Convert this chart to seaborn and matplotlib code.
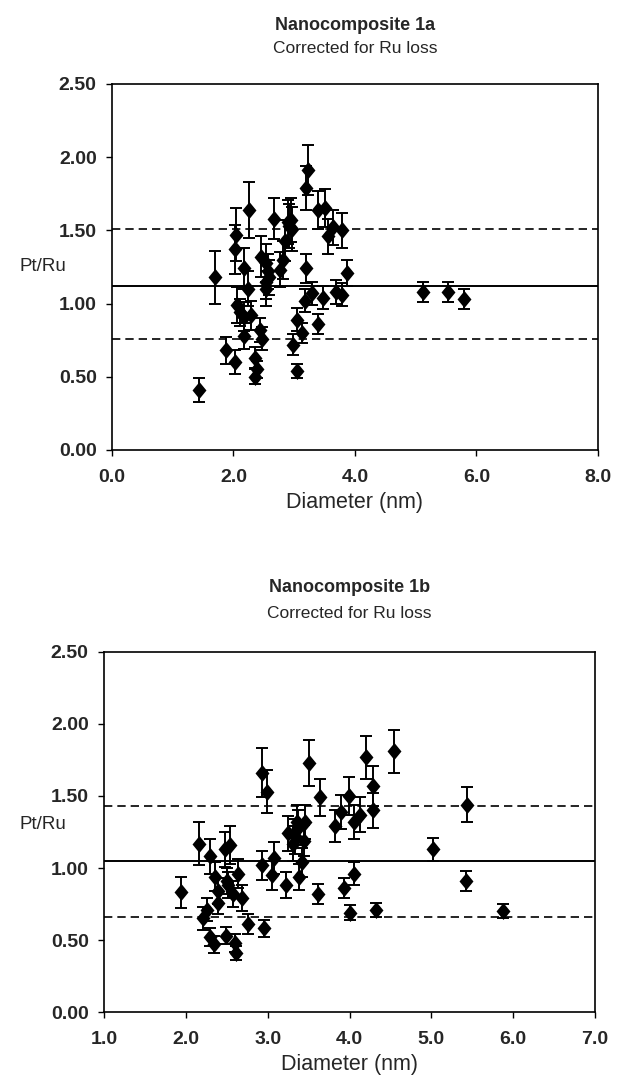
import seaborn as sns
import matplotlib.pyplot as plt
import pandas as pd

# Nanocomposite 1a
diam_a = [1.44, 1.69, 1.88, 2.02, 2.02, 2.04, 2.05, 2.11, 2.17, 2.17, 2.17, 2.24, 2.26, 2.29,
          2.36, 2.38, 2.36, 2.43, 2.47, 2.46, 2.53, 2.56, 2.58, 2.54, 2.53, 2.66, 2.76, 2.82,
          2.84, 2.89, 2.92, 2.95, 2.97, 3.04, 2.98, 3.04, 3.23, 3.20, 3.20, 3.39, 3.50, 3.55,
          3.64, 3.79, 3.87, 3.30, 3.17, 3.47, 3.69, 3.79, 3.12, 3.39, 5.12, 5.53, 5.79]
ptru_a = [0.41, 1.18, 0.68, 0.60, 1.37, 1.47, 0.99, 0.94, 1.24, 0.91, 0.78, 1.10, 1.64, 0.92,
          0.63, 0.55, 0.50, 0.82, 0.76, 1.32, 1.28, 1.22, 1.18, 1.15, 1.10, 1.58, 1.23, 1.30,
          1.43, 1.56, 1.53, 1.57, 1.51, 0.89, 0.72, 0.54, 1.91, 1.79, 1.24, 1.64, 1.65, 1.46,
          1.52, 1.50, 1.21, 1.07, 1.02, 1.04, 1.08, 1.06, 0.80, 0.86, 1.08, 1.08, 1.03]
err_a = [0.08, 0.18, 0.09, 0.08, 0.17, 0.18, 0.12, 0.09, 0.14, 0.10, 0.09, 0.12, 0.19, 0.10,
         0.07, 0.06, 0.05, 0.08, 0.08, 0.14, 0.13, 0.12, 0.12, 0.12, 0.12, 0.14, 0.12, 0.13,
         0.14, 0.15, 0.15, 0.15, 0.15, 0.08, 0.07, 0.05, 0.17, 0.15, 0.10, 0.13, 0.13, 0.12,
         0.12, 0.12, 0.09, 0.08, 0.08, 0.08, 0.08, 0.08, 0.07, 0.07, 0.07, 0.07, 0.07]
lines_a = [1.12, 1.51, 0.76]  # mean, upper, lower

# Nanocomposite 1b
diam_b = [1.94, 2.16, 2.21, 2.26, 2.30, 2.29, 2.34, 2.36, 2.39, 2.39, 2.48, 2.54, 2.49, 2.50,
          2.52, 2.60, 2.61, 2.58, 2.64, 2.69, 2.76, 2.95, 2.93, 2.99, 2.93, 3.08, 3.05, 3.22,
          3.25, 3.33, 3.31, 3.37, 3.38, 3.36, 3.45, 3.44, 3.42, 3.50, 3.64, 3.82, 3.90, 3.99,
          4.05, 4.13, 4.20, 4.29, 4.29, 4.54, 5.02, 3.62, 3.93, 4.05, 4.01, 4.32, 5.43, 5.42, 5.88]
ptru_b = [0.83, 1.17, 0.65, 0.71, 1.08, 0.52, 0.47, 0.94, 0.84, 0.76, 1.13, 1.16, 0.53, 0.91,
          0.88, 0.48, 0.41, 0.82, 0.96, 0.79, 0.61, 0.58, 1.66, 1.53, 1.02, 1.07, 0.95, 0.88,
          1.24, 1.22, 1.17, 1.28, 0.94, 1.32, 1.32, 1.19, 1.04, 1.73, 1.49, 1.29, 1.39, 1.50,
          1.32, 1.37, 1.77, 1.57, 1.40, 1.81, 1.13, 0.82, 0.86, 0.96, 0.69, 0.71, 1.44, 0.91, 0.70]
err_b = [0.11, 0.15, 0.08, 0.08, 0.12, 0.06, 0.06, 0.10, 0.09, 0.08, 0.12, 0.13, 0.06, 0.09,
         0.09, 0.06, 0.05, 0.09, 0.10, 0.09, 0.07, 0.06, 0.17, 0.15, 0.10, 0.11, 0.10, 0.09,
         0.12, 0.12, 0.12, 0.12, 0.09, 0.12, 0.12, 0.11, 0.10, 0.16, 0.13, 0.11, 0.12, 0.13,
         0.12, 0.12, 0.15, 0.14, 0.12, 0.15, 0.08, 0.07, 0.07, 0.08, 0.05, 0.05, 0.12, 0.07, 0.05]
lines_b = [1.05, 1.43, 0.66]

sns.set_style("ticks")
plt.rcParams['font.family'] = ['Liberation Sans', 'DejaVu Sans']

fig = plt.figure(figsize=(6.17, 10.78), dpi=100)
ax1 = fig.add_axes([0.1815, 0.5826, 0.7877, 0.3395])
ax2 = fig.add_axes([0.1686, 0.0612, 0.7958, 0.3340])

# slightly tall diamond like the original marker
diamond = [(0, 1), (0.82, 0), (0, -1), (-0.82, 0), (0, 1)]


def panel(ax, d, v, e, hl, xlim, xticks, name, title_y, sub_y, ylab_pos):
    df = pd.DataFrame({"Diameter": d, "PtRu": v, "err": e})
    ax.errorbar(df["Diameter"], df["PtRu"], yerr=df["err"], fmt="none",
                ecolor="black", elinewidth=1.4, capsize=4, capthick=1.4, zorder=2)
    sns.scatterplot(data=df, x="Diameter", y="PtRu", ax=ax, marker=diamond, s=150,
                    color="black", edgecolor="black", linewidth=0, zorder=3)
    ax.axhline(hl[0], color="black", lw=1.4, zorder=1)
    ax.axhline(hl[1], color="black", lw=1.2, ls=(0, (5, 3)), zorder=1)
    ax.axhline(hl[2], color="black", lw=1.2, ls=(0, (5, 3)), zorder=1)
    ax.set_xlim(*xlim)
    ax.set_ylim(0, 2.5)
    ax.set_xticks(xticks)
    ax.set_xticklabels([f"{t:.1f}" for t in xticks], fontweight="bold", fontsize=14)
    yt = [0, 0.5, 1.0, 1.5, 2.0, 2.5]
    ax.set_yticks(yt)
    ax.set_yticklabels([f"{t:.2f}" for t in yt], fontweight="bold", fontsize=14)
    ax.tick_params(direction="out", length=4, width=1, color="black")
    ax.tick_params(axis="x", pad=10)
    ax.tick_params(axis="y", pad=7)
    for sp in ax.spines.values():
        sp.set_visible(True)
        sp.set_color("black")
        sp.set_linewidth(1.2)
    ax.set_xlabel("Diameter (nm)", fontsize=15.5, labelpad=4)
    ax.set_ylabel("Pt/Ru", fontsize=13.5, rotation=0, ha="center", va="center")
    ax.yaxis.set_label_coords(*ylab_pos)
    ax.text(0.5, title_y, name, transform=ax.transAxes, ha="center", va="center",
            fontweight="bold", fontsize=13)
    ax.text(0.5, sub_y, "Corrected for Ru loss", transform=ax.transAxes,
            ha="center", va="center", fontsize=12.5)


panel(ax1, diam_a, ptru_a, err_a, lines_a, (0, 8), [0, 2, 4, 6, 8],
      "Nanocomposite 1a", 1.161, 1.098, (-0.142, 0.50))
panel(ax2, diam_b, ptru_b, err_b, lines_b, (1, 7), [1, 2, 3, 4, 5, 6, 7],
      "Nanocomposite 1b", 1.178, 1.106, (-0.124, 0.52))

plt.savefig("out.png", dpi=100)
